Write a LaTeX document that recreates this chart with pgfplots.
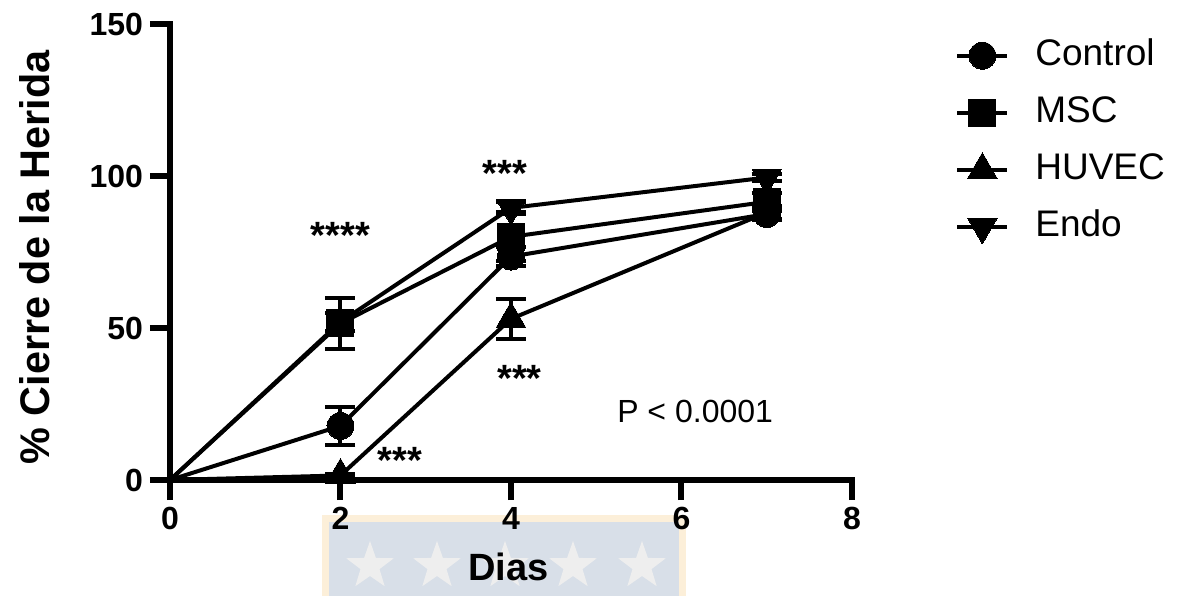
\documentclass[border=0pt]{standalone}
\usepackage{fontspec}
\setmainfont{Liberation Sans}
\usepackage{pgfplots}
\pgfplotsset{compat=1.18}
\usetikzlibrary{shapes.geometric}

\definecolor{wmborder}{HTML}{FCEFD9}
\definecolor{wmfill}{HTML}{D8DFE8}
\definecolor{wmstar}{HTML}{EEEEEE}

\begin{document}
\begin{tikzpicture}
\path[use as bounding box] (-85pt,-57.5pt) rectangle (504pt,240pt);

% banner behind the x label
\fill[wmborder] (76pt,-17.5pt) rectangle (258pt,-62pt);
\fill[wmfill] (79.5pt,-21pt) rectangle (254.5pt,-62pt);
\foreach \sx in {100,133.5,167.5,201.5,236}{
  \node[star, star points=5, star point ratio=2.5, fill=wmstar, draw=none,
        minimum size=25pt, inner sep=0pt] at (\sx pt,-43pt) {};
}

\begin{axis}[
  at={(0pt,0pt)}, anchor=south west,
  scale only axis, width=341pt, height=228pt,
  xmin=0, xmax=8, ymin=0, ymax=150,
  clip=false,
  axis lines=left,
  axis line style={line width=3pt, line cap=rect, -},
  xtick={0,2,4,6,8}, ytick={0,50,100,150},
  tick align=outside, major tick length=10pt,
  tick style={line width=3pt, black},
  tick label style={font=\fontsize{16}{16}\selectfont\bfseries},
  /pgf/number format/assume math mode=true,
  xlabel={Dias}, ylabel={\% Cierre de la Herida},
  xlabel style={font=\fontsize{19}{20}\selectfont\bfseries,
    at={(axis description cs:0.496,-0.191)}, anchor=center},
  ylabel style={font=\fontsize{20.7}{21}\selectfont\bfseries,
    at={(axis description cs:-0.198,0.488)}, anchor=center, rotate=0},
  error bars/y dir=both, error bars/y explicit,
  error bars/error bar style={line width=2pt, black, solid},
  error bars/error mark options={rotate=90, line width=2pt, mark size=7.5pt, black},
  legend style={at={(1.151,0.972)}, anchor=north west, draw=none, fill=none,
    font=\fontsize{18.5}{19}\selectfont, row sep=10pt, inner sep=0pt,
    nodes={inner sep=1pt, text height=13pt, text depth=3.5pt},
    /tikz/every odd column/.append style={column sep=12pt}},
  legend cell align=left,
  legend image code/.code={%
    \draw[#1, mark indices={2}] plot coordinates {(0pt,0pt) (12.5pt,0pt) (25pt,0pt)};},
]
\addplot[black, line width=2pt, mark indices={2,3,4},
  mark=*, mark size=6.75pt, mark options={fill=black, line width=0pt}]
  coordinates {(0,0) +- (0,0) (2,17.8) +- (0,6.2) (4,73.5) +- (0,3) (7,87.5) +- (0,2)};
\addlegendentry{Control}
\addplot[black, line width=2pt, mark indices={2,3,4},
  mark=square*, mark size=6.75pt, mark options={fill=black, line width=0pt}]
  coordinates {(0,0) +- (0,0) (2,51.5) +- (0,8.5) (4,80) +- (0,8) (7,91.5) +- (0,3)};
\addlegendentry{MSC}
\addplot[black, line width=2pt, mark indices={2,3,4},
  mark=triangle*, mark size=8.5pt, mark options={fill=black, line width=0pt}]
  coordinates {(0,0) +- (0,0) (2,1.5) +- (0,0.5) (4,53) +- (0,6.5) (7,88) +- (0,2)};
\addlegendentry{HUVEC}
\addplot[black, line width=2pt, mark indices={2,3,4},
  mark=triangle*, mark size=8.5pt, mark options={fill=black, line width=0pt, rotate=180}]
  coordinates {(0,0) +- (0,0) (2,52) +- (0,3) (4,89.5) +- (0,2) (7,99.5) +- (0,1)};
\addlegendentry{Endo}

\node[font=\fontsize{19}{19}\selectfont\bfseries] at (axis cs:2,80.5) {****};
\node[font=\fontsize{19}{19}\selectfont\bfseries] at (axis cs:3.93,101) {***};
\node[font=\fontsize{19}{19}\selectfont\bfseries] at (axis cs:4.1,33.5) {***};
\node[font=\fontsize{19}{19}\selectfont\bfseries] at (axis cs:2.7,6.5) {***};
\node[font=\fontsize{16}{16}\selectfont] at (axis cs:6.16,22.7) {P < 0.0001};
\end{axis}
\end{tikzpicture}
\end{document}
